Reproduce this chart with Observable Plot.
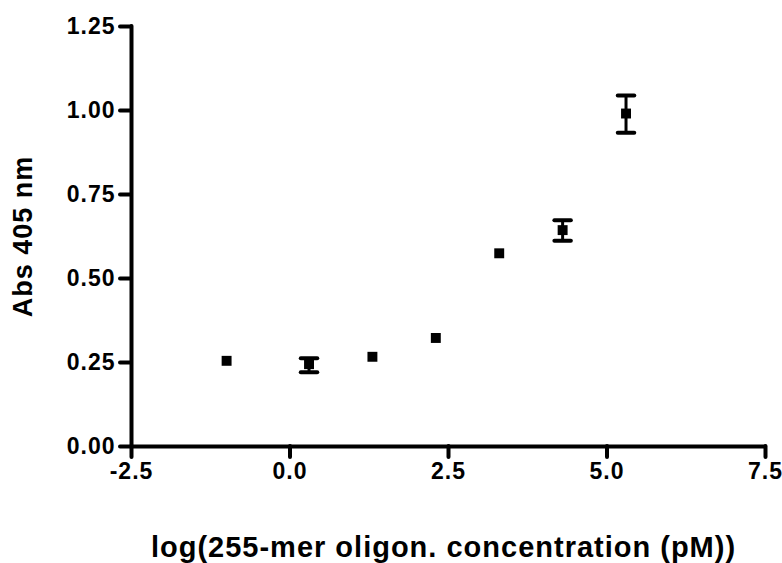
<!DOCTYPE html>
<html>
<head>
<meta charset="utf-8">
<script src="https://cdn.jsdelivr.net/npm/d3@7"></script>
<script src="https://cdn.jsdelivr.net/npm/@observablehq/plot@0.6"></script>
<style>
  html, body { margin: 0; padding: 0; background: #fff; }
  #chart svg { display: block; }
  #chart svg text { letter-spacing: 1px; }
</style>
</head>
<body>
<div id="chart"></div>
<script>
// log10 concentration (pM)
const logConc = [-1.0, 0.3, 1.3, 2.3, 3.3, 4.3, 5.3];
// mean absorbance at 405 nm
const absMean = [0.255, 0.245, 0.267, 0.323, 0.575, 0.644, 0.991];
// error bar limits (only where visible)
const errX    = [0.3, 4.3, 5.3];
const errLow  = [0.221, 0.612, 0.934];
const errHigh = [0.263, 0.673, 1.045];

const xTicks = [-2.5, 0, 2.5, 5, 7.5];
const yTicks = [0, 0.25, 0.5, 0.75, 1.0, 1.25];
const xTitle = "log(255-mer oligon. concentration (pM))";
const yTitle = "Abs 405 nm";

const points = logConc.map((x, i) => ({x, y: absMean[i]}));
const errs = errX.map((x, i) => ({x, lo: errLow[i], hi: errHigh[i]}));
const capHalf = 0.13;
const caps = errs.flatMap(d => [
  {x1: d.x - capHalf, x2: d.x + capHalf, y: d.lo},
  {x1: d.x - capHalf, x2: d.x + capHalf, y: d.hi}
]);

const chart = Plot.plot({
  width: 782,
  height: 563,
  marginLeft: 131,
  marginRight: 17,
  marginTop: 26,
  marginBottom: 117,
  style: {fontFamily: "'Liberation Sans', Arial, sans-serif", fontWeight: "bold", fontSize: "23px", color: "#000", background: "#fff"},
  x: {domain: [-2.5, 7.5]},
  y: {domain: [0, 1.25]},
  marks: [
    Plot.axisX({ticks: xTicks, tickFormat: d => d.toFixed(1), tickSize: 11, tickPadding: 5, strokeWidth: 4, strokeLinecap: "round",
      fontSize: 23, label: null}),
    Plot.axisY({ticks: yTicks, tickFormat: d => d.toFixed(2), tickSize: 11, tickPadding: 5, strokeWidth: 4, strokeLinecap: "round",
      fontSize: 23, label: null}),
    Plot.text([xTitle], {frameAnchor: "bottom", dx: -5, dy: 101, fontSize: 29, fontWeight: "bold", lineAnchor: "middle"}),
    Plot.text([yTitle], {frameAnchor: "left", dx: -108, rotate: -90, fontSize: 27, fontWeight: "bold", lineAnchor: "middle", textAnchor: "middle"}),
    Plot.ruleY([0], {stroke: "#000", strokeWidth: 4, strokeLinecap: "round"}),
    Plot.ruleX([-2.5], {stroke: "#000", strokeWidth: 4, strokeLinecap: "round"}),
    Plot.ruleX(errs, {x: "x", y1: "lo", y2: "hi", stroke: "#000", strokeWidth: 3}),
    Plot.link(caps, {x1: "x1", x2: "x2", y1: "y", y2: "y", stroke: "#000", strokeWidth: 4, strokeLinecap: "round"}),
    Plot.dot(points, {x: "x", y: "y", symbol: "square", r: 5.6, fill: "#000", stroke: "none"})
  ]
});
document.getElementById("chart").appendChild(chart);
</script>
</body>
</html>
